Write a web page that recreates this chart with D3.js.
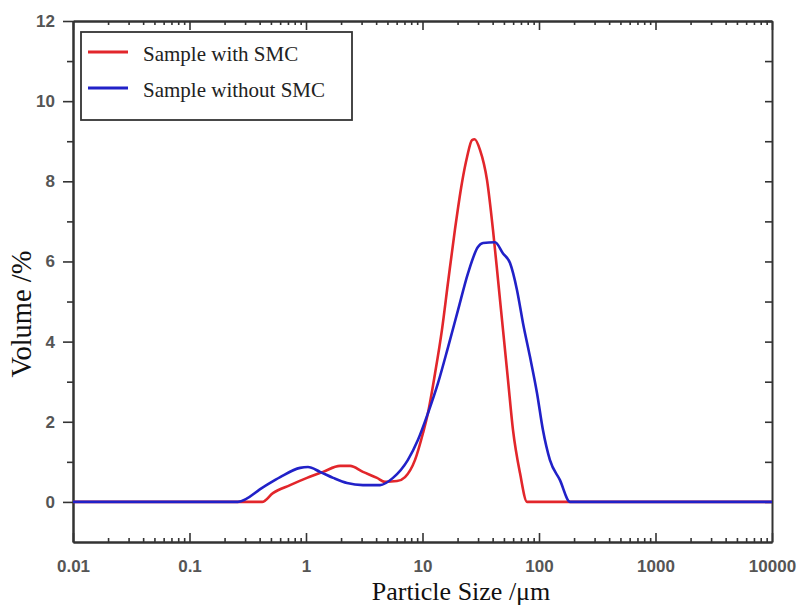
<!DOCTYPE html>
<html>
<head>
<meta charset="utf-8">
<script src="https://cdn.jsdelivr.net/npm/d3@7"></script>
<style>
  body { margin: 0; background: #fff; }
  svg { display: block; }
</style>
</head>
<body>
<svg id="chart" width="799" height="605"></svg>
<script>
// ---- Data ----
const seriesNames = ["Sample with SMC", "Sample without SMC"];
const seriesColors = ["#e2262b", "#2121c8"];

const withSize = [0.01, 0.42, 0.52, 0.73, 1.02, 1.4, 1.96, 2.39, 3.08, 4.07, 4.76, 6.04, 7.08, 8.63, 10.1, 11.1, 12.8, 14.7, 16.6, 19.0, 21.8, 24.1, 26.6, 28.0, 31.2, 35.8, 40.3, 44.5, 49.1, 54.2, 59.8, 68.7, 79, 10000];
const withVol  = [0, 0, 0.22, 0.42, 0.6, 0.75, 0.9, 0.9, 0.75, 0.6, 0.5, 0.52, 0.62, 1.05, 1.72, 2.2, 3.2, 4.3, 5.5, 6.8, 7.96, 8.6, 9.03, 9.05, 8.78, 8.03, 6.78, 5.54, 4.29, 3.04, 1.8, 0.72, 0, 0];

const withoutSize = [0.01, 0.26, 0.43, 0.60, 0.89, 1.04, 1.32, 1.71, 2.25, 3.08, 4.32, 5.58, 7.5, 9.15, 11.1, 13.6, 16.6, 20.2, 24.6, 29.9, 33.1, 41.9, 49.1, 56.4, 64.7, 72.9, 83.7, 96.1, 108, 124, 151, 185, 10000];
const withoutVol  = [0, 0, 0.37, 0.62, 0.85, 0.87, 0.75, 0.6, 0.47, 0.42, 0.42, 0.6, 1.05, 1.55, 2.2, 2.97, 3.87, 4.79, 5.71, 6.36, 6.46, 6.48, 6.2, 5.96, 5.29, 4.46, 3.62, 2.72, 1.8, 1.05, 0.55, 0, 0];

const xTickValues = [0.01, 0.1, 1, 10, 100, 1000, 10000];
const xTickLabels = ["0.01", "0.1", "1", "10", "100", "1000", "10000"];
const yTickValues = [0, 2, 4, 6, 8, 10, 12];
const yMinorValues = [1, 3, 5, 7, 9, 11];
const xTitle = "Particle Size /\u03bcm";
const yTitle = "Volume /%";

// ---- Layout ----
const svg = d3.select("#chart");
const L = 73, R = 772, T = 21, B = 542;
const x = d3.scaleLog().domain([0.01, 10000]).range([L, R]);
const y = d3.scaleLinear().domain([-1, 12]).range([B, T]);

const axisColor = "#333";
const tickFont = "'Liberation Sans', Arial, sans-serif";
const serif = "'Liberation Serif', 'Times New Roman', serif";

// minor x tick values
const xMinor = [];
for (let e = -2; e < 4; e++) for (let k = 2; k <= 9; k++) xMinor.push(k * Math.pow(10, e));

// Bottom axis (ticks inward)
const gB = svg.append("g").attr("transform", `translate(0,${B})`);
gB.call(d3.axisBottom(x).tickValues(xTickValues).tickFormat((d, i) => xTickLabels[i]).tickSizeInner(-9).tickSizeOuter(0).tickPadding(18));
gB.append("g").call(d3.axisBottom(x).tickValues(xMinor).tickFormat("").tickSizeInner(-4).tickSizeOuter(0));
// Top axis (ticks inward)
const gT = svg.append("g").attr("transform", `translate(0,${T})`);
gT.call(d3.axisTop(x).tickValues(xTickValues).tickFormat("").tickSizeInner(-9).tickSizeOuter(0));
gT.append("g").call(d3.axisTop(x).tickValues(xMinor).tickFormat("").tickSizeInner(-4).tickSizeOuter(0));
// Left axis (ticks outward)
const gL = svg.append("g").attr("transform", `translate(${L},0)`);
gL.call(d3.axisLeft(y).tickValues(yTickValues).tickFormat(d3.format("d")).tickSizeInner(10).tickSizeOuter(0).tickPadding(8));
gL.append("g").call(d3.axisLeft(y).tickValues(yMinorValues).tickFormat("").tickSizeInner(6).tickSizeOuter(0));
// Right axis (ticks inward)
const gR = svg.append("g").attr("transform", `translate(${R},0)`);
gR.call(d3.axisRight(y).tickValues(yTickValues.concat(yMinorValues)).tickFormat("").tickSizeInner(-7).tickSizeOuter(0));

svg.selectAll(".domain").attr("stroke", axisColor).attr("stroke-width", 2);
svg.selectAll(".tick line").attr("stroke", axisColor).attr("stroke-width", 1.6);
svg.selectAll(".tick text")
  .attr("font-family", tickFont)
  .attr("font-size", 17)
  .attr("font-weight", "bold")
  .attr("fill", "#555");

// Data lines
const line = d3.line().x(d => x(d[0])).y(d => y(d[1])).curve(d3.curveMonotoneX);
const data = [
  d3.zip(withSize, withVol),
  d3.zip(withoutSize, withoutVol)
];
data.forEach((pts, i) => {
  svg.append("path")
    .datum(pts)
    .attr("fill", "none")
    .attr("stroke", seriesColors[i])
    .attr("stroke-width", 2.6)
    .attr("stroke-linejoin", "round")
    .attr("d", line);
});

// Legend
const leg = svg.append("g");
leg.append("rect")
  .attr("x", 81).attr("y", 32).attr("width", 271).attr("height", 88)
  .attr("fill", "#fff").attr("stroke", axisColor).attr("stroke-width", 1.8);
seriesNames.forEach((name, i) => {
  const yy = 52 + i * 36;
  leg.append("line")
    .attr("x1", 88).attr("x2", 128).attr("y1", yy).attr("y2", yy)
    .attr("stroke", seriesColors[i]).attr("stroke-width", 3);
  leg.append("text")
    .attr("x", 143).attr("y", yy + 9)
    .attr("font-family", serif).attr("font-size", 21)
    .attr("fill", "#222")
    .text(name);
});

// Axis titles
svg.append("text")
  .attr("x", 461).attr("y", 600)
  .attr("text-anchor", "middle")
  .attr("font-family", serif).attr("font-size", 26)
  .attr("fill", "#111")
  .text(xTitle);
svg.append("text")
  .attr("transform", "translate(31,314) rotate(-90)")
  .attr("text-anchor", "middle")
  .attr("font-family", serif).attr("font-size", 28.5)
  .attr("fill", "#111")
  .text(yTitle);
</script>
</body>
</html>
